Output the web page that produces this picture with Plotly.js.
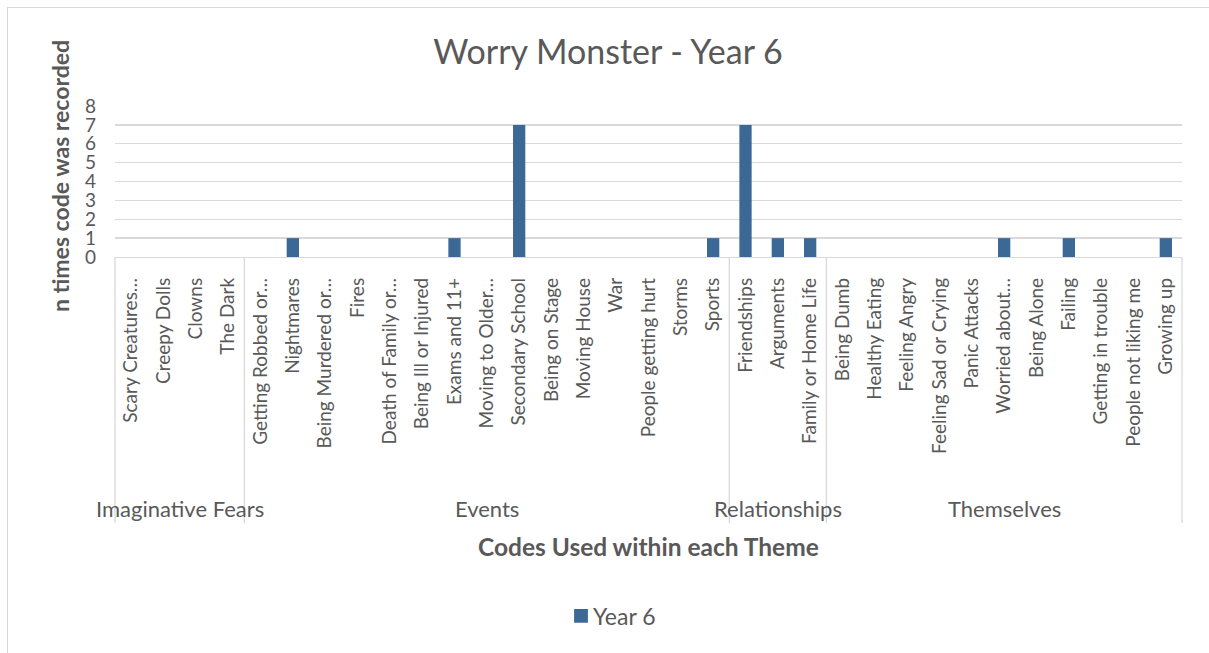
<!DOCTYPE html>
<html>
<head>
<meta charset="utf-8">
<script src="https://cdn.plot.ly/plotly-3.0.1.min.js"></script>
<style>
  html, body { margin: 0; padding: 0; background: #ffffff; }
  #wrap { position: relative; width: 1209px; height: 653px; overflow: hidden; }
  #chart { position: absolute; left: 0; top: 0; width: 1209px; height: 653px; }
  #frame { position: absolute; left: 7px; top: 7px; width: 1240px; height: 700px;
           border: 1px solid #d9d9d9; pointer-events: none; box-sizing: border-box; }
  /* larger legend swatch, sitting close to its label */
  #chart .legendpoints path { transform: translate(28px, 0px) scale(1.15); }
</style>
</head>
<body>
<div id="wrap">
  <div id="chart"></div>
  <div id="frame"></div>
</div>
<script>
// Themes and the codes recorded under each one
const themeNames = ["Imaginative Fears", "Events", "Relationships", "Themselves"];

const imaginativeFearsCodes = ["Scary Creatures…", "Creepy Dolls", "Clowns", "The Dark"];
const eventsCodes = ["Getting Robbed or…", "Nightmares", "Being Murdered or…", "Fires",
  "Death of Family or…", "Being Ill or Injured", "Exams and 11+", "Moving to Older…",
  "Secondary School", "Being on Stage", "Moving House", "War", "People getting hurt",
  "Storms", "Sports"];
const relationshipsCodes = ["Friendships", "Arguments", "Family or Home Life"];
const themselvesCodes = ["Being Dumb", "Healthy Eating", "Feeling Angry", "Feeling Sad or Crying",
  "Panic Attacks", "Worried about…", "Being Alone", "Failing", "Getting in trouble",
  "People not liking me", "Growing up"];

// Number of times each code was recorded (Year 6)
const imaginativeFearsCounts = [0, 0, 0, 0];
const eventsCounts = [0, 1, 0, 0, 0, 0, 1, 0, 7, 0, 0, 0, 0, 0, 1];
const relationshipsCounts = [7, 1, 1];
const themselvesCounts = [0, 0, 0, 0, 0, 1, 0, 1, 0, 0, 1];

const yTicks = [0, 1, 2, 3, 4, 5, 6, 7, 8];

const groupCodes = [imaginativeFearsCodes, eventsCodes, relationshipsCodes, themselvesCodes];
const groupCounts = [imaginativeFearsCounts, eventsCounts, relationshipsCounts, themselvesCounts];
const codes = groupCodes.flat();
const counts = groupCounts.flat();
const nCodes = codes.length;

// Page geometry (pixels)
const W = 1209, H = 653;
const plotL = 115, plotR = 1182, plotT = 106, plotB = 257;
const plotW = plotR - plotL, plotH = plotB - plotT;
const toPaperY = py => (plotB - py) / plotH;
const toPaperX = px => (px - plotL) / plotW;

const textGrey = "#595959";
const lineGrey = "#d9d9d9";
const fontFam = "Lato, 'Open Sans', sans-serif";

// Divider lines and theme labels under the category axis
const shapes = [];
const annotations = [];
let start = 0;
const bounds = [0];
groupCodes.forEach(g => { start += g.length; bounds.push(start); });
bounds.forEach(b => {
  shapes.push({
    type: "line", xref: "paper", yref: "paper",
    x0: b / nCodes, x1: b / nCodes, y0: 0, y1: toPaperY(523),
    line: { color: lineGrey, width: 1.3 }
  });
});
themeNames.forEach((name, i) => {
  const mid = (bounds[i] + bounds[i + 1]) / 2 / nCodes;
  annotations.push({
    text: name, xref: "paper", yref: "paper", x: mid, y: toPaperY(508),
    xanchor: "center", yanchor: "middle", showarrow: false,
    font: { family: fontFam, size: 22, color: textGrey }
  });
});

annotations.push({
  text: "<b>Codes Used within each Theme</b>", xref: "paper", yref: "paper",
  x: 0.5, y: toPaperY(546), xanchor: "center", yanchor: "middle", showarrow: false,
  font: { family: fontFam, size: 24.5, color: textGrey }
});
annotations.push({
  text: "<b>n times code was recorded</b>", xref: "paper", yref: "paper",
  x: toPaperX(60), y: toPaperY(176), xanchor: "center", yanchor: "middle",
  textangle: -90, showarrow: false,
  font: { family: fontFam, size: 23, color: textGrey }
});

const trace = {
  type: "bar",
  name: "Year 6",
  x: codes,
  y: counts,
  marker: { color: "#3c6895" },
  hoverinfo: "x+y"
};

const layout = {
  width: W, height: H,
  margin: { l: plotL, r: W - plotR, t: plotT, b: H - plotB, pad: 0 },
  paper_bgcolor: "#ffffff", plot_bgcolor: "#ffffff",
  font: { family: fontFam, color: textGrey },
  title: {
    text: "Worry Monster - Year 6",
    xref: "container", yref: "container",
    x: 608 / W, y: 1 - 52 / H, xanchor: "center", yanchor: "middle",
    font: { family: fontFam, size: 34, color: textGrey }
  },
  bargap: 0.62,
  xaxis: {
    type: "category",
    range: [-0.5, nCodes - 0.5],
    tickangle: -90,
    ticks: "",
    ticklabelstandoff: 12,
    tickfont: { family: fontFam, size: 19, color: textGrey },
    showgrid: false,
    showline: true, linecolor: lineGrey, linewidth: 1.3,
    zeroline: false, fixedrange: true
  },
  yaxis: {
    range: [0, 8],
    tickvals: yTicks,
    ticktext: yTicks.map(String),
    ticks: "",
    ticklabelstandoff: 18,
    tickfont: { family: fontFam, size: 19, color: textGrey },
    showgrid: true, gridcolor: lineGrey, gridwidth: 1.3,
    showline: false, zeroline: false, fixedrange: true
  },
  showlegend: true,
  legend: {
    orientation: "h",
    xref: "container", yref: "container",
    x: 607 / W, y: 1 - 616 / H, xanchor: "center", yanchor: "middle",
    font: { family: fontFam, size: 23, color: textGrey },
    itemwidth: 30
  },
  shapes: shapes,
  annotations: annotations
};

Plotly.newPlot("chart", [trace], layout, { displayModeBar: false, staticPlot: true });
</script>
</body>
</html>
